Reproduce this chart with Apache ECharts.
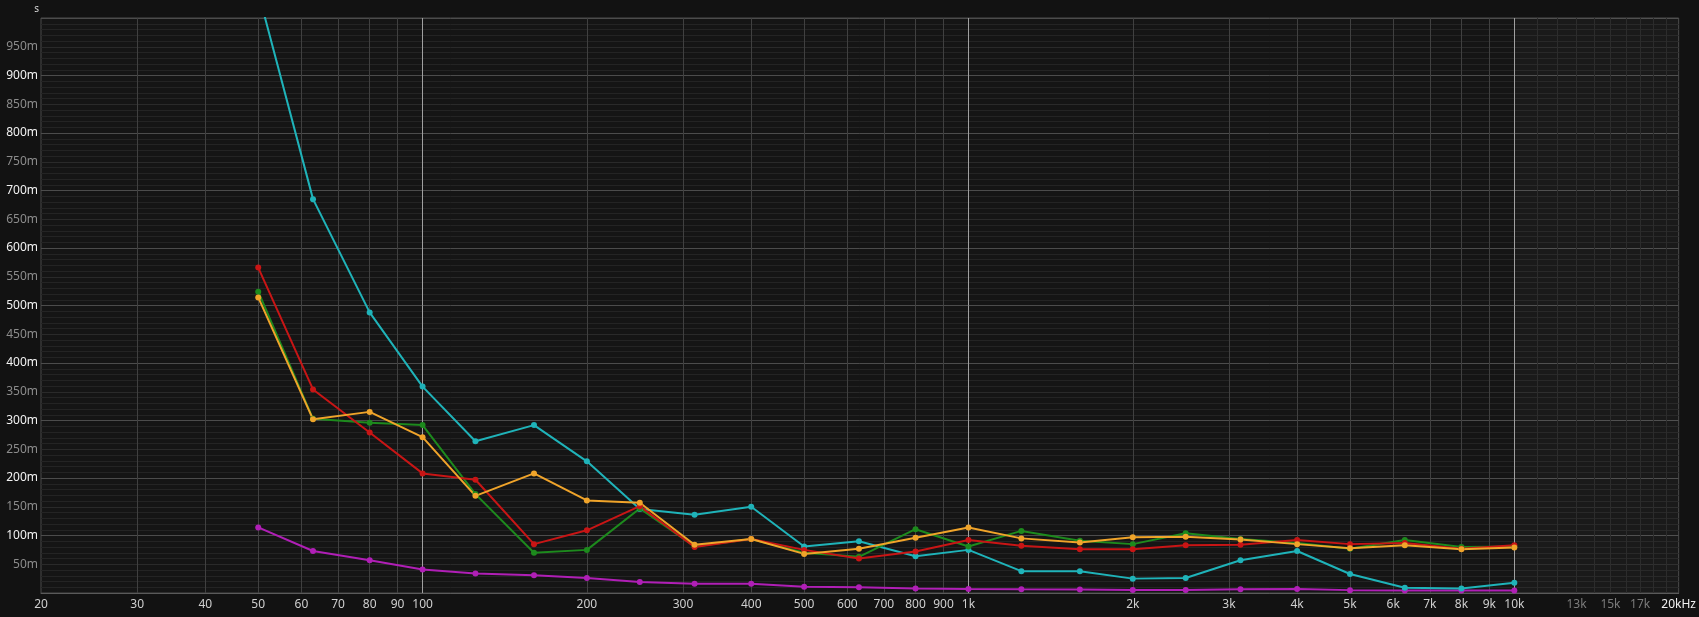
<!DOCTYPE html>
<html>
<head>
<meta charset="utf-8">
<script src="https://cdn.jsdelivr.net/npm/echarts@6/dist/echarts.min.js"></script>
<style>
html,body{margin:0;padding:0;background:#121212;}
#c{width:1699px;height:617px;}
</style>
</head>
<body>
<div id="c"></div>
<script>
// Frequencies (Hz), 1/3 octave bands
const freqs = [50, 63, 80, 100, 125, 160, 200, 250, 315, 400, 500, 630, 800, 1000, 1250, 1600, 2000, 2500, 3150, 4000, 5000, 6300, 8000, 10000];

// Values in seconds
const cyanVals   = [1.045, 0.685, 0.488, 0.359, 0.264, 0.292, 0.229, 0.146, 0.136, 0.150, 0.081, 0.090, 0.064, 0.075, 0.038, 0.038, 0.025, 0.026, 0.057, 0.073, 0.033, 0.009, 0.008, 0.018];
const redVals    = [0.566, 0.354, 0.279, 0.208, 0.197, 0.085, 0.109, 0.151, 0.080, 0.094, 0.075, 0.060, 0.072, 0.092, 0.082, 0.076, 0.076, 0.083, 0.084, 0.092, 0.085, 0.087, 0.077, 0.083];
const greenVals  = [0.524, 0.303, 0.296, 0.292, 0.172, 0.070, 0.075, 0.147, 0.081, 0.094, 0.070, 0.063, 0.111, 0.081, 0.108, 0.091, 0.085, 0.104, 0.094, 0.087, 0.077, 0.092, 0.080, 0.081];
const orangeVals = [0.514, 0.302, 0.315, 0.271, 0.169, 0.208, 0.161, 0.157, 0.084, 0.094, 0.068, 0.077, 0.096, 0.114, 0.095, 0.088, 0.097, 0.098, 0.093, 0.085, 0.078, 0.083, 0.076, 0.079];
const purpleVals = [0.114, 0.073, 0.057, 0.041, 0.034, 0.031, 0.026, 0.019, 0.016, 0.016, 0.011, 0.010, 0.008, 0.007, 0.0064, 0.006, 0.0052, 0.0052, 0.0064, 0.007, 0.005, 0.0045, 0.0045, 0.0045];

// X tick labels
const xTickValues = [20, 30, 40, 50, 60, 70, 80, 90, 100, 200, 300, 400, 500, 600, 700, 800, 900, 1000, 2000, 3000, 4000, 5000, 6000, 7000, 8000, 9000, 10000, 13000, 15000, 17000, 20000];
const xTickLabels = ['20','30','40','50','60','70','80','90','100','200','300','400','500','600','700','800','900','1k','2k','3k','4k','5k','6k','7k','8k','9k','10k','13k','15k','17k','20kHz'];
const dimLabels = [13000, 15000, 17000];

// Vertical grid lines
const majorV = [100, 1000, 10000];
const midV = [30, 40, 50, 60, 70, 80, 90, 200, 300, 400, 500, 600, 700, 800, 900, 2000, 3000, 4000, 5000, 6000, 7000, 8000, 9000];
const fineV = [11000, 12000, 13000, 14000, 15000, 16000, 17000, 18000, 19000];

const FONT = 'Noto Sans';

const vLines = []
  .concat(fineV.map(v => ({xAxis: v, lineStyle: {color: '#2c2c2c', width: 1, type: 'solid'}})))
  .concat(midV.map(v => ({xAxis: v, lineStyle: {color: '#404040', width: 1, type: 'solid'}})))
  .concat(majorV.map(v => ({xAxis: v, lineStyle: {color: '#a0a0a0', width: 1, type: 'solid'}})));

function mk(name, vals, color) {
  return {
    name: name,
    type: 'line',
    data: freqs.map((f, i) => [f, vals[i]]),
    symbol: 'circle',
    symbolSize: 6,
    showSymbol: true,
    lineStyle: {color: color, width: 2},
    itemStyle: {color: color},
    emphasis: {disabled: true},
    clip: true,
    z: 5,
    animation: false
  };
}

const chart = echarts.init(document.getElementById('c'), null, {renderer: 'canvas'});
chart.setOption({
  backgroundColor: '#121212',
  animation: false,
  grid: {
    left: 41, right: 19, top: 18, bottom: 24,
    show: true, backgroundColor: '#151515', borderColor: '#4a4a4a', borderWidth: 1
  },
  xAxis: {
    type: 'log', logBase: 10, min: 20, max: 20000,
    axisLine: {show: true, lineStyle: {color: '#5a5a5a'}},
    axisTick: {show: false},
    splitLine: {show: false},
    minorTick: {show: false},
    minorSplitLine: {show: false},
    axisLabel: {
      customValues: xTickValues,
      margin: 6,
      fontFamily: FONT, fontSize: 12,
      formatter: function (v) {
        const i = xTickValues.findIndex(t => Math.abs(t - v) / t < 1e-6);
        const txt = i >= 0 ? xTickLabels[i] : '';
        if (dimLabels.indexOf(Math.round(v)) >= 0) return '{d|' + txt + '}';
        if (Math.round(v) === 20000) return '{w|' + txt + '}';
        return '{n|' + txt + '}';
      },
      rich: {
        n: {color: '#cfcfcf', fontFamily: FONT, fontSize: 12},
        d: {color: '#7c7c7c', fontFamily: FONT, fontSize: 12},
        w: {color: '#f0f0f0', fontFamily: FONT, fontSize: 12}
      }
    }
  },
  yAxis: {
    type: 'value', min: 0, max: 1, interval: 0.05,
    name: 's',
    nameLocation: 'end',
    nameGap: 4,
    nameTextStyle: {color: '#d8d8d8', fontFamily: FONT, fontSize: 10, align: 'right', padding: [0, 2, 0, 0]},
    axisLine: {show: false},
    axisTick: {show: false},
    splitLine: {show: true, lineStyle: {color: ['#4c4c4c', '#2a2a2a'], width: 1}},
    minorTick: {show: false, splitNumber: 5},
    minorSplitLine: {show: true, lineStyle: {color: '#242424', width: 1}},
    axisLabel: {
      showMinLabel: false, showMaxLabel: false,
      margin: 3,
      fontFamily: FONT, fontSize: 12,
      formatter: function (v) {
        const m = Math.round(v * 1000);
        if (m === 0 || m === 1000) return '';
        return (m % 100 === 0 ? '{b|' : '{g|') + m + 'm}';
      },
      rich: {
        b: {color: '#f2f2f2', fontFamily: FONT, fontSize: 12},
        g: {color: '#8c8c8c', fontFamily: FONT, fontSize: 12}
      }
    }
  },
  series: [
    {
      name: 'grid',
      type: 'line',
      data: [],
      silent: true,
      z: 1,
      markArea: {
        silent: true,
        itemStyle: {color: 'rgba(255,255,255,0.025)'},
        data: [[{xAxis: 10000}, {xAxis: 20000}]]
      },
      markLine: {
        silent: true,
        symbol: ['none', 'none'],
        label: {show: false},
        animation: false,
        data: vLines
      }
    },
    mk('purple', purpleVals, '#b01fb6'),
    mk('cyan', cyanVals, '#1fb3b9'),
    mk('green', greenVals, '#1d8a1d'),
    mk('red', redVals, '#c81515'),
    mk('orange', orangeVals, '#f0a42a')
  ]
});
</script>
</body>
</html>
